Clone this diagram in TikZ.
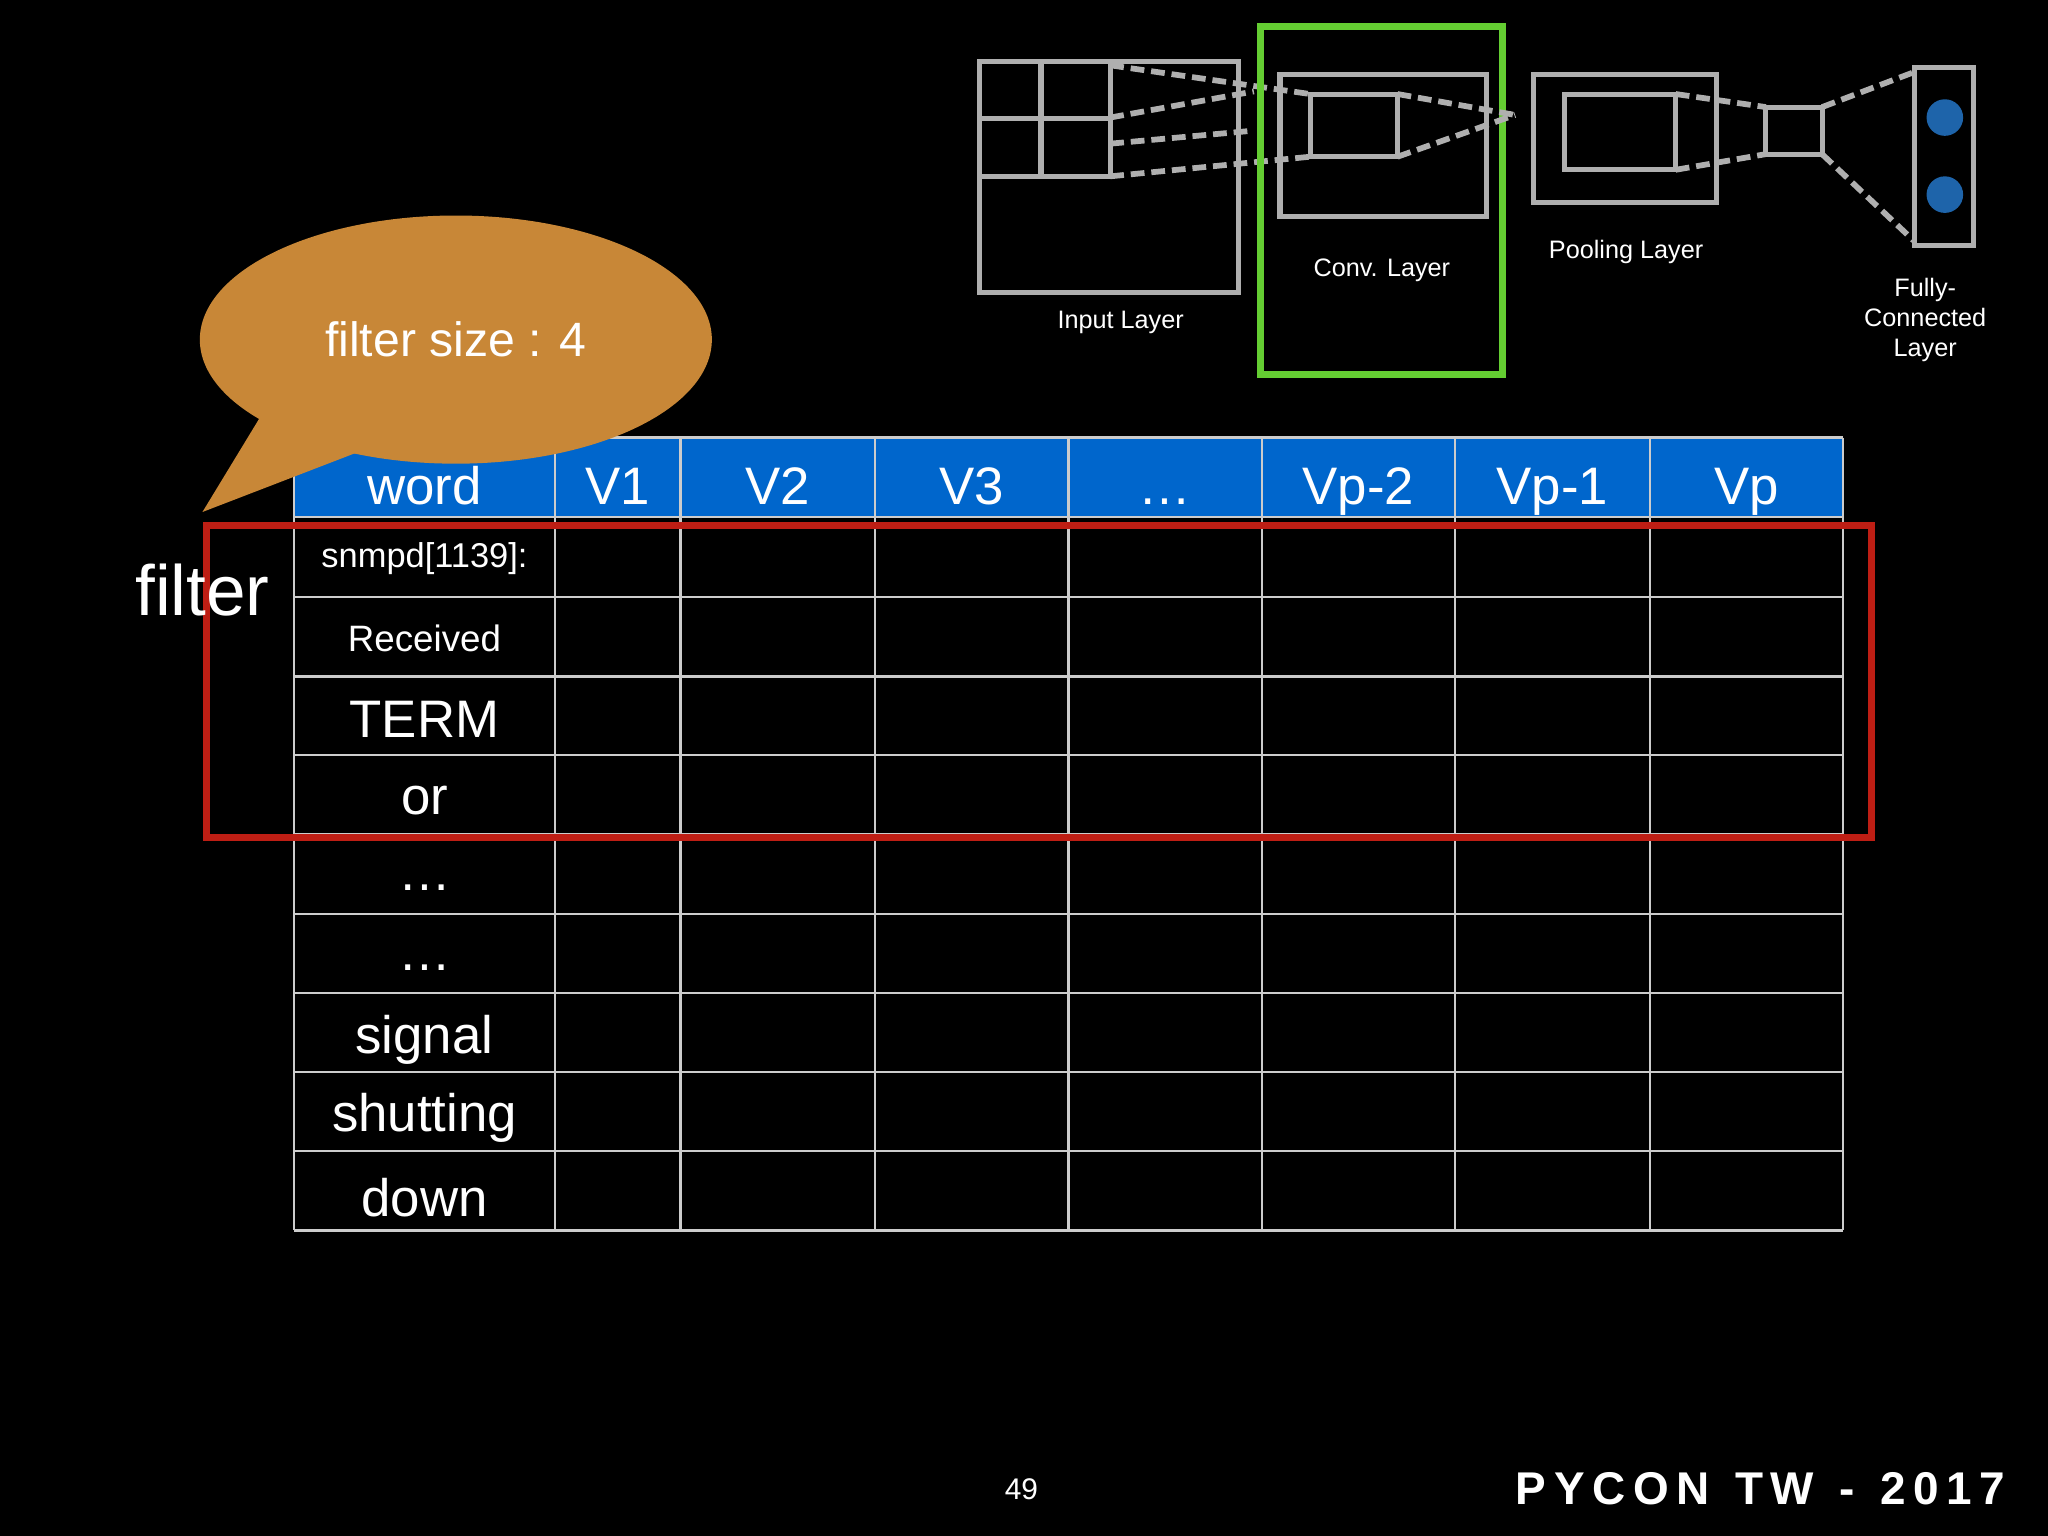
\documentclass[tikz,border=0pt]{standalone}
\usepackage{fontspec}
\setmainfont{Liberation Sans}
\usetikzlibrary{shapes.geometric}
\definecolor{hdr}{RGB}{0,102,204}
\definecolor{redb}{RGB}{190,30,20}
\definecolor{bub}{RGB}{200,135,55}
\definecolor{chalk}{RGB}{175,175,175}
\definecolor{grn}{RGB}{100,205,50}
\definecolor{dotb}{RGB}{30,100,170}
\tikzset{
 cell/.style={draw=white!80!black,line width=1pt},
 chalkbox/.style={draw=chalk,line width=2.2pt},
 chalkdash/.style={draw=chalk,line width=2.5pt,dash pattern=on 6pt off 3pt},
 lbl/.style={text=white,font=\fontsize{11}{13}\selectfont,align=center},
 wtxt/.style={text=white,anchor=center}
}
\begin{document}
\begin{tikzpicture}[x=0.02cm,y=-0.02cm]
\fill[black] (0,0) rectangle (1568,1176);
\useasboundingbox (0,0) rectangle (1568,1176);
% header
\fill[hdr] (225,335) rectangle (1411,396);
% grid
\foreach \x in {225,425,521,670,818,966,1114,1263,1411} \draw[cell] (\x,335) -- (\x,942);
\foreach \y in {335,396,457,518,578,639,700,760,821,881,942} \draw[cell] (225,\y) -- (1411,\y);
% header labels
\foreach \t/\a/\b in {word/225/425,V1/425/521,V2/521/670,V3/670/818,{\dots}/818/966,Vp-2/966/1114,Vp-1/1114/1263,Vp/1263/1411}
  \node[wtxt,font=\fontsize{23}{26}\selectfont,text depth=0pt,anchor=base] at ({(\a+\b)/2},386) {\t};
\node[wtxt,font=\fontsize{15}{18}\selectfont] (r1) at (325,428) {snmpd[1139]:};
\node[wtxt,font=\fontsize{16}{20}\selectfont] (r2) at (325,489) {Received};
\node[wtxt,font=\fontsize{23}{26}\selectfont] (r3) at (325,551) {TERM};
\node[wtxt,font=\fontsize{23}{26}\selectfont] (r4) at (325,613) {or};
\node[wtxt,font=\fontsize{23}{26}\selectfont] (r5) at (325,680) {\dots};
\node[wtxt,font=\fontsize{23}{26}\selectfont] (r6) at (325,741) {\dots};
\node[wtxt,font=\fontsize{23}{26}\selectfont] (r7) at (325,796) {signal};
\node[wtxt,font=\fontsize{23}{26}\selectfont] (r8) at (325,856) {shutting};
\node[wtxt,font=\fontsize{23}{26}\selectfont] (r9) at (325,917) {down};
% red filter
\draw[redb,line width=3pt] (158,402) rectangle (1433,641);
% bubble
\fill[bub] (200,318) -- (155,392) -- (290,340) -- cycle;
\fill[bub] (349,260) ellipse [x radius=196, y radius=95];
\node[wtxt,font=\fontsize{21}{26}\selectfont] (bt) at (349,260) {filter size : 4};
\node[wtxt,font=\fontsize{31}{36}\selectfont] (flt) at (155,452) {filter};
% footer
\node[wtxt,font=\fontsize{13}{15}\selectfont] (pg) at (782,1140) {49};
\node[wtxt,font=\bfseries\fontsize{20}{24}\selectfont] (py) at (1348,1140) {P\,Y\,C\,O\,N\ \ T\,W\ \ -\ \ 2\,0\,1\,7};
% top diagram
\draw[chalkbox] (750,47) rectangle (948,224);
\draw[chalkbox] (750,47) rectangle (850,135);
\draw[chalkbox] (750,91) -- (850,91) (797,47) -- (797,135);
\draw[chalkdash] (850,50) -- (1003,72) (850,135) -- (1003,120) (850,90) -- (960,70) (850,110) -- (960,100);
\draw[grn,line width=3pt] (965,20) rectangle (1150,287);
\draw[chalkbox] (980,57) rectangle (1138,166);
\draw[chalkbox] (1003,72) rectangle (1070,120);
\draw[chalkdash] (1070,72) -- (1160,88) (1070,120) -- (1160,88);
\draw[chalkbox] (1174,57) rectangle (1314,155);
\draw[chalkbox] (1198,72) rectangle (1283,130);
\draw[chalkdash] (1283,72) -- (1352,82) (1283,130) -- (1352,118);
\draw[chalkbox] (1352,82) rectangle (1395,118);
\draw[chalkdash] (1395,82) -- (1466,55) (1395,118) -- (1466,185);
\draw[chalkbox] (1466,52) rectangle (1511,188);
\fill[dotb] (1489,90) circle (14);
\fill[dotb] (1489,149) circle (14);
\node[lbl] (l1) at (858,247) {Input Layer};
\node[lbl] (l2) at (1058,207) {Conv. Layer};
\node[lbl] (l3) at (1245,193) {Pooling Layer};
\node[lbl] (l4) at (1474,245) {Fully-\\Connected\\Layer};
\end{tikzpicture}
\end{document}
